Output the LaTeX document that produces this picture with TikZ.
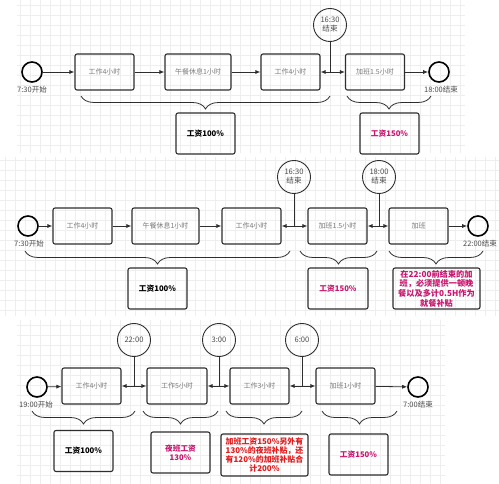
\documentclass[tikz,border=0pt]{standalone}
\usepackage{fontspec}
\setmainfont{Noto Sans CJK SC}
\usetikzlibrary{arrows.meta,decorations.pathreplacing}
\definecolor{gridc}{HTML}{EEEEEE}
\definecolor{boxtxt}{HTML}{7A7A7A}
\definecolor{circtxt}{HTML}{4A4A4A}
\definecolor{mag}{HTML}{C8146E}
\definecolor{redtxt}{HTML}{E3191C}
\definecolor{linec}{HTML}{2E2E2E}
\tikzset{
  task/.style={draw=linec, line width=1.1pt, rounded corners=2pt, minimum width=59pt, minimum height=36pt, inner sep=0pt, font=\fontsize{7}{8}\selectfont, text=boxtxt},
  result/.style={draw=linec, line width=1.1pt, rounded corners=2pt, minimum width=59pt, minimum height=41pt, inner sep=1pt, align=center, font=\bfseries\fontsize{7.7}{9}\selectfont, text=black},
  startc/.style={circle, draw=black, line width=1.6pt, minimum size=20pt, inner sep=0pt},
  timec/.style={circle, draw=linec, line width=0.9pt, minimum size=33pt, inner sep=0pt, align=center, font=\fontsize{7.6}{9}\selectfont, text=circtxt},
  lbl/.style={font=\fontsize{7.5}{8}\selectfont, text=circtxt, inner sep=0pt},
  conn/.style={draw=linec, line width=0.8pt},
  arr/.style={conn, -{Latex[length=5pt,width=4pt]}},
  brc/.style={draw=linec, line width=0.8pt, decorate, decoration={brace, mirror, amplitude=13pt, aspect=0.5}}
}
\begin{document}
\begin{tikzpicture}[x=1pt,y=-1pt]
\useasboundingbox (0,0) rectangle (499,484);
\fill[white] (0,0) rectangle (499,484);
% grids
\foreach \x in {20,30,...,460} \draw[gridc, line width=0.4pt] (\x,0) -- (\x,153);
\foreach \y in {5,15,...,150} \draw[gridc, line width=0.4pt] (17,\y) -- (465,\y);
\foreach \x in {5,15,...,495} \draw[gridc, line width=0.4pt] (\x,157) -- (\x,316);
\foreach \y in {160,170,...,310} \draw[gridc, line width=0.4pt] (0,\y) -- (499,\y);
\foreach \x in {20,30,...,440} \draw[gridc, line width=0.4pt] (\x,320) -- (\x,484);
\foreach \y in {325,335,...,480} \draw[gridc, line width=0.4pt] (17,\y) -- (445,\y);

% ===== Panel 1 =====
\node[startc] (s1) at (32,72) {};
\node[lbl] (s1l) at (32,90) {7:30开始};
\node[task] (a1) at (104.5,72) {工作4小时};
\node[task, minimum width=66pt] (a2) at (198,72) {午餐休息1小时};
\node[task] (a3) at (290.5,72) {工作4小时};
\node[timec] (t1) at (330,25) {16:30\\结束};
\coordinate (j1) at (330,72);
\node[task] (a4) at (375,72) {加班1.5小时};
\node[startc] (e1) at (439,72) {};
\node[lbl] (e1l) at (441,90) {18:00结束};
\draw[arr] (s1) -- (a1);
\draw[arr] (a1) -- (a2);
\draw[arr] (a2) -- (a3);
\draw[conn] (t1) -- (j1);
\draw[arr] (j1) -- (a3.east);
\draw[arr] (j1) -- (a4.west);
\draw[arr] (a4) -- (e1);
\coordinate (b1a) at (81,96); \coordinate (b1b) at (330,96);
\coordinate (b2a) at (347,96); \coordinate (b2b) at (431,96);
\draw[brc] (b1a) -- (b1b);
\draw[brc] (b2a) -- (b2b);
\node[result] (r1) at (205.5,133.5) {工资100\%};
\node[result, text=mag] (r2) at (389.5,133.5) {工资150\%};

% ===== Panel 2 =====
\node[startc] (s2) at (28,226) {};
\node[lbl] (s2l) at (29,244) {7:30开始};
\node[task] (p1) at (82.5,226) {工作4小时};
\node[task, minimum width=67pt] (p2) at (165.5,226) {午餐休息1小时};
\node[task] (p3) at (251.5,226) {工作4小时};
\node[timec] (t2) at (294,177) {16:30\\结束};
\coordinate (j2) at (294,226);
\node[task] (p4) at (337.5,226) {加班1.5小时};
\node[timec] (t3) at (379,177) {18:00\\结束};
\coordinate (j3) at (379,226);
\node[task] (p5) at (418.5,226) {加班};
\node[startc] (e2) at (478,226) {};
\node[lbl] (e2l) at (480,244) {22:00结束};
\draw[arr] (s2) -- (p1);
\draw[arr] (p1) -- (p2);
\draw[arr] (p2) -- (p3);
\draw[conn] (t2) -- (j2);
\draw[arr] (j2) -- (p3.east);
\draw[arr] (j2) -- (p4.west);
\draw[conn] (t3) -- (j3);
\draw[arr] (j3) -- (p4.east);
\draw[arr] (j3) -- (p5.west);
\draw[arr] (p5) -- (e2);
\coordinate (b3a) at (25,251); \coordinate (b3b) at (290,251);
\coordinate (b4a) at (300,251); \coordinate (b4b) at (377,251);
\coordinate (b5a) at (389,251); \coordinate (b5b) at (483,251);
\draw[brc] (b3a) -- (b3b);
\draw[brc] (b4a) -- (b4b);
\draw[brc] (b5a) -- (b5b);
\node[result] (r3) at (157.5,288.5) {工资100\%};
\node[result, text=mag, minimum width=60pt] (r4) at (338,288.5) {工资150\%};
\node[result, text=mag, minimum width=87pt, inner sep=0pt, font=\bfseries\fontsize{8.2}{9.6}\selectfont] (r5) at (436.5,288.5) {在22:00前结束的加\\班，必须提供一顿晚\\餐以及多计0.5H作为\\就餐补贴};

% ===== Panel 3 =====
\node[startc] (s3) at (37,387) {};
\node[lbl] (s3l) at (36,405) {19:00开始};
\node[task] (c1) at (91.5,386) {工作4小时};
\node[timec] (t4) at (134,340) {22:00};
\coordinate (j4) at (134,386);
\node[task, minimum width=60pt] (c2) at (177,386) {工作5小时};
\node[timec] (t5) at (219,340) {3:00};
\coordinate (j5) at (219,386);
\node[task] (c3) at (259.5,386) {工作3小时};
\node[timec] (t6) at (302,340) {6:00};
\coordinate (j6) at (302,386);
\node[task] (c4) at (345.5,386) {加班1小时};
\node[startc] (e3) at (418,387) {};
\node[lbl] (e3l) at (418,405) {7:00结束};
\draw[arr] (s3) -- (c1);
\draw[conn] (t4) -- (j4);
\draw[arr] (j4) -- (c1.east);
\draw[arr] (j4) -- (c2.west);
\draw[conn] (t5) -- (j5);
\draw[arr] (j5) -- (c2.east);
\draw[arr] (j5) -- (c3.west);
\draw[conn] (t6) -- (j6);
\draw[arr] (j6) -- (c3.east);
\draw[arr] (j6) -- (c4.west);
\draw[arr] (c4) -- (e3);
\coordinate (b6a) at (32,411); \coordinate (b6b) at (135,411);
\coordinate (b7a) at (143,411); \coordinate (b7b) at (218,411);
\coordinate (b8a) at (226,411); \coordinate (b8b) at (302,411);
\coordinate (b9a) at (322,411); \coordinate (b9b) at (397,411);
\draw[brc] (b6a) -- (b6b);
\draw[brc] (b7a) -- (b7b);
\draw[brc] (b8a) -- (b8b);
\draw[brc] (b9a) -- (b9b);
\node[result] (r6) at (83.5,451) {工资100\%};
\node[result, text=mag] (r7) at (180.5,452.5) {夜班工资\\130\%};
\node[result, text=redtxt, minimum width=87pt, minimum height=42pt, inner sep=0pt, font=\bfseries\fontsize{7.9}{9.2}\selectfont] (r8) at (264.5,455) {加班工资150\%另外有\\130\%的夜班补贴，还\\有120\%的加班补贴合\\计200\%};
\node[result, text=mag] (r9) at (358.5,454.5) {工资150\%};
\end{tikzpicture}
\end{document}
